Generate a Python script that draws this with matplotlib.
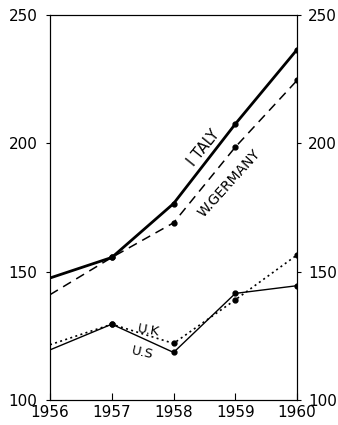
import matplotlib.pyplot as plt

# years and index values
years = [1956, 1957, 1958, 1959, 1960]
italy = [147.5, 155.5, 176.5, 207.5, 236.5]
w_germany = [141, 155.5, 169, 198.5, 224.5]
uk = [121.5, 129.5, 122, 139, 156.5]
us = [119.5, 129.5, 118.5, 141.5, 144.5]

yticks = [100, 150, 200, 250]

plt.rcParams['font.family'] = ['DejaVu Sans']

fig = plt.figure(figsize=(3.38, 4.25), dpi=100)
ax = fig.add_axes([0.148, 0.059, 0.731, 0.906])

mk = dict(marker='o', markersize=3.5, markevery=slice(1, None), color='black')
ax.plot(years, italy, lw=2.0, **mk)
ax.plot(years, w_germany, lw=1.1, ls=(0, (6, 4)), **mk)
ax.plot(years, uk, lw=1.2, ls=(0, (1.2, 2)), **mk)
ax.plot(years, us, lw=1.0, **mk)

ax.set_xlim(1956, 1960)
ax.set_ylim(100, 250)
ax.set_xticks(years)
ax.set_yticks(yticks)
ax.tick_params(axis='x', direction='in', length=5, pad=4, labelsize=11)
ax.tick_params(axis='y', direction='out', length=3, pad=6, labelsize=11)
for s in ax.spines.values():
    s.set_linewidth(0.8)

ax2 = ax.twinx()
ax2.set_ylim(100, 250)
ax2.set_yticks(yticks)
ax2.tick_params(axis='y', direction='out', length=3, pad=5, labelsize=11)

# series labels along the lines
ax.text(1958.48, 198, 'I TALY', rotation=51, ha='center', va='center', fontsize=10.5)
ax.text(1958.9, 184.5, 'W.GERMANY', rotation=48, ha='center', va='center', fontsize=10)
ax.text(1957.6, 127, 'U.K', rotation=-10, ha='center', va='center', fontsize=9.5)
ax.text(1957.5, 118.3, 'U.S', rotation=-12, ha='center', va='center', fontsize=9.5)

fig.savefig('out.png', dpi=100)
